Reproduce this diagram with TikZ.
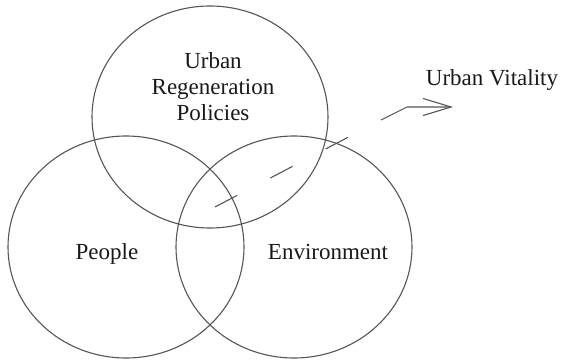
\documentclass[tikz,border=0pt]{standalone}
\usepackage{fontspec}
\setmainfont{Liberation Serif}
\usepackage{tikz}
\usetikzlibrary{shapes.geometric, arrows.meta, positioning, calc}
\definecolor{rimgray}{RGB}{85,85,85}
\definecolor{inkgray}{RGB}{25,25,25}
\tikzset{
  sphere/.style={ellipse, draw=rimgray, line width=1.1pt, minimum width=236pt,
    minimum height=222pt, inner sep=0pt, outer sep=0pt},
  lbl/.style={font=\fontsize{23}{26}\selectfont, text=inkgray, align=center, inner sep=0pt},
  flow/.style={draw=rimgray, line width=1.1pt},
  dashflow/.style={flow, dash pattern=on 25pt off 37.5pt},
  bent/.style={flow, -{Straight Barb[length=28pt, width=17pt]}}
}

\begin{document}
\begin{tikzpicture}[x=1pt, y=-1pt]
  \useasboundingbox (0,0) rectangle (563,361);
  \node[sphere] (pol) at (210,117) {};
  \node[sphere] (ppl) at (126,247) {};
  \node[sphere] (env) at (294,247) {};
  \node[lbl] (tpol) at (213,87) {Urban\\Regeneration\\Policies};
  \node[lbl, anchor=base] (tppl) at (107,259) {People};
  \node[lbl, anchor=base] (tenv) at (328,259) {Environment};
  \node[lbl, anchor=base] (vit) at (492,86) {Urban Vitality};
  \coordinate (core) at (215,207);
  \coordinate (rise) at (381,120);
  \coordinate (knee) at (407,107);
  \coordinate (tip) at (453,107);
  \draw[dashflow] (core) -- (rise);
  \draw[bent] (rise) -- (knee) -- (tip);
\end{tikzpicture}
\end{document}
